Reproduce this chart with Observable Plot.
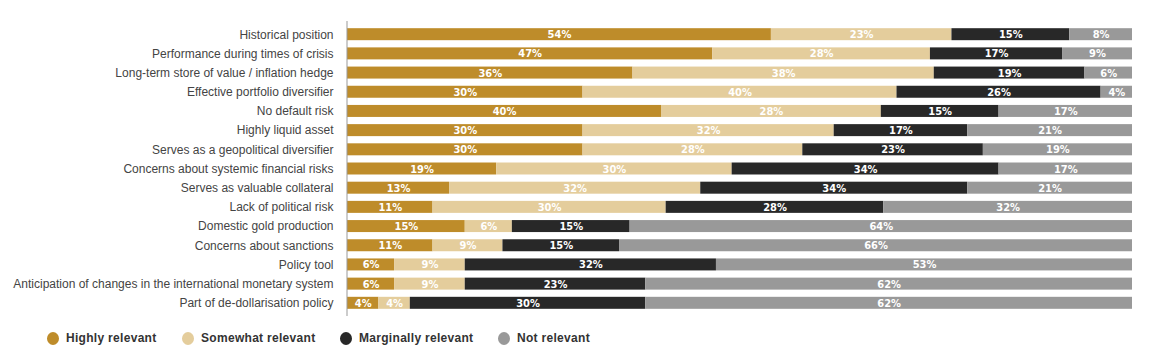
<!DOCTYPE html>
<html>
<head>
<meta charset="utf-8">
<script src="https://cdn.jsdelivr.net/npm/d3@7"></script>
<script src="https://cdn.jsdelivr.net/npm/@observablehq/plot@0.6"></script>
<style>
  html, body { margin: 0; padding: 0; background: #fff; }
  #wrap { position: relative; width: 1153px; height: 360px; }
  #legend { position: absolute; left: 0; top: 329px; width: 1153px; height: 20px;
            font-family: "Liberation Sans", Arial, sans-serif;
            font-size: 12px; font-weight: bold; color: #333; letter-spacing: 0.3px; }
  .item { position: absolute; top: 0; display: flex; align-items: center; height: 18px; }
  .dot { width: 12px; height: 13px; border-radius: 50%; margin-right: 7px; }
</style>
</head>
<body>
<div id="wrap">
  <div id="chart"></div>
  <div id="legend"></div>
</div>
<script>
const categories = [
  "Historical position",
  "Performance during times of crisis",
  "Long-term store of value / inflation hedge",
  "Effective portfolio diversifier",
  "No default risk",
  "Highly liquid asset",
  "Serves as a geopolitical diversifier",
  "Concerns about systemic financial risks",
  "Serves as valuable collateral",
  "Lack of political risk",
  "Domestic gold production",
  "Concerns about sanctions",
  "Policy tool",
  "Anticipation of changes in the international monetary system",
  "Part of de-dollarisation policy"
];
const seriesNames = ["Highly relevant", "Somewhat relevant", "Marginally relevant", "Not relevant"];
const seriesColors = ["#BE8C2A", "#E4CD9C", "#282828", "#999999"];
const highly     = [54, 47, 36, 30, 40, 30, 30, 19, 13, 11, 15, 11, 6, 6, 4];
const somewhat   = [23, 28, 38, 40, 28, 32, 28, 30, 32, 30, 6, 9, 9, 9, 4];
const marginally = [15, 17, 19, 26, 15, 17, 23, 34, 34, 28, 15, 15, 32, 23, 30];
const notRel     = [8, 9, 6, 4, 17, 21, 19, 17, 21, 32, 64, 66, 53, 62, 62];

const seriesValues = [highly, somewhat, marginally, notRel];
const data = [];
categories.forEach((c, i) => {
  seriesNames.forEach((s, j) => {
    data.push({category: c, series: s, value: seriesValues[j][i]});
  });
});

const chart = Plot.plot({
  width: 1153,
  height: 320,
  marginLeft: 347,
  marginRight: 21,
  marginTop: 21,
  marginBottom: 4,
  style: {fontFamily: "'Liberation Sans', Arial, sans-serif", fontSize: "12px", color: "#444"},
  x: {axis: null, domain: [0, 1]},
  y: {domain: categories, label: null, padding: 0.375, round: false, tickSize: 0, tickPadding: 14},
  color: {domain: seriesNames, range: seriesColors},
  marks: [
    Plot.barX(data, Plot.stackX({x: "value", y: "category", fill: "series", order: seriesNames, offset: "normalize"})),
    Plot.text(data, Plot.stackX({x: "value", y: "category", z: "series", order: seriesNames, offset: "normalize",
      text: d => d.value + "%", fill: "white", fontWeight: "bold",
      fontFamily: "'DejaVu Sans Condensed', 'Liberation Sans', sans-serif", fontSize: 11})),
    Plot.ruleX([0], {stroke: "#999", strokeWidth: 1, dx: -0.5})
  ]
});
document.getElementById("chart").appendChild(chart);

const legendLeft = [47, 182, 340, 498];
const legend = document.getElementById("legend");
seriesNames.forEach((s, i) => {
  const item = document.createElement("div");
  item.className = "item";
  item.style.left = legendLeft[i] + "px";
  const dot = document.createElement("span");
  dot.className = "dot";
  dot.style.background = seriesColors[i];
  const lab = document.createElement("span");
  lab.textContent = s;
  item.appendChild(dot);
  item.appendChild(lab);
  legend.appendChild(item);
});
</script>
</body>
</html>
